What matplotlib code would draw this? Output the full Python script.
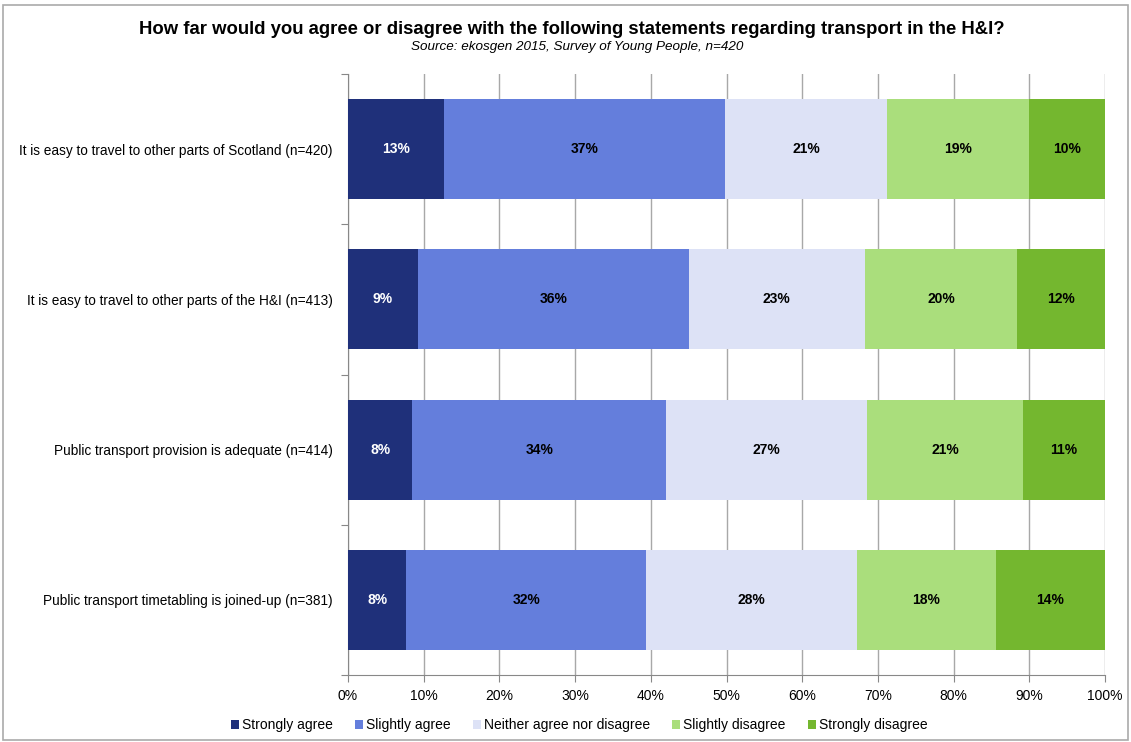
import numpy as np
import matplotlib.pyplot as plt
from matplotlib.patches import Rectangle

plt.rcParams['font.family'] = ['Liberation Sans', 'DejaVu Sans']

# data
statements = ['It is easy to travel to other parts of Scotland (n=420)',
              'It is easy to travel to other parts of the H&I (n=413)',
              'Public transport provision is adequate (n=414)',
              'Public transport timetabling is joined-up (n=381)']
responses = ['Strongly agree', 'Slightly agree', 'Neither agree nor disagree',
             'Slightly disagree', 'Strongly disagree']
strongly_agree = [12.7, 9.2, 8.5, 7.7]
slightly_agree = [37.1, 35.8, 33.5, 31.7]
neither = [21.4, 23.3, 26.6, 27.8]
slightly_disagree = [18.8, 20.1, 20.6, 18.4]
strongly_disagree = [10.0, 11.6, 10.8, 14.4]

colors = ['#1f307a', '#647edc', '#dde2f6', '#aade7c', '#74b72f']
text_colors = ['white', 'black', 'black', 'black', 'black']

fig = plt.figure(figsize=(11.31, 7.42), dpi=100)
ax = fig.add_axes([348/1131, 1-675/742, (1105-348)/1131, (675-74)/742])

series = [strongly_agree, slightly_agree, neither, slightly_disagree, strongly_disagree]
y = np.arange(len(statements))
left = np.zeros(len(statements))
for vals, c, tc, name in zip(series, colors, text_colors, responses):
    vals = np.array(vals)
    ax.barh(y, vals, left=left, height=0.667, color=c, label=name, zorder=3)
    for yi, l, v in zip(y, left, vals):
        ax.text(l + v/2, yi, '%d%%' % round(v), ha='center', va='center',
                fontsize=10, fontweight='bold', color=tc, zorder=4)
    left = left + vals

ax.set_xlim(0, 100)
ax.set_ylim(len(statements)-0.5, -0.5)
ax.set_xticks(np.arange(0, 101, 10))
ax.set_xticklabels(['%d%%' % v for v in range(0, 101, 10)], fontsize=10)
ax.set_yticks(np.arange(-0.5, len(statements), 1), minor=False)
ax.set_yticklabels([])
ax.set_yticks(y, minor=True)
ax.set_yticklabels(statements, minor=True, fontsize=9.8)
ax.tick_params(axis='y', which='minor', length=0, pad=11)
ax.tick_params(axis='y', which='major', length=5, color='#888888')
ax.tick_params(axis='x', length=5, color='#888888', pad=5)
ax.grid(axis='x', color='#a8a8a8', linewidth=1, zorder=0)
for s in ['top', 'right']:
    ax.spines[s].set_visible(False)
ax.spines['left'].set_color('#888888')
ax.spines['bottom'].set_color('#888888')

fig.text(0.506, 1-30/742, 'How far would you agree or disagree with the following statements regarding transport in the H&I?',
         ha='center', va='center', fontsize=13.3, fontweight='bold')
fig.text(0.51, 1-47/742, 'Source: ekosgen 2015, Survey of Young People, n=420',
         ha='center', va='center', fontsize=9.7, style='italic')

fig.legend(loc='center', bbox_to_anchor=(0.512, 1-725/742), ncol=5, frameon=False,
           fontsize=10, handlelength=0.6, handleheight=0.6, handletextpad=0.2,
           columnspacing=1.6)

fig.patches.append(Rectangle((0.003, 0.003), 0.994, 0.99, transform=fig.transFigure,
                             fill=False, edgecolor='#aaaaaa', linewidth=1.2))

fig.savefig('out.png', dpi=100)
